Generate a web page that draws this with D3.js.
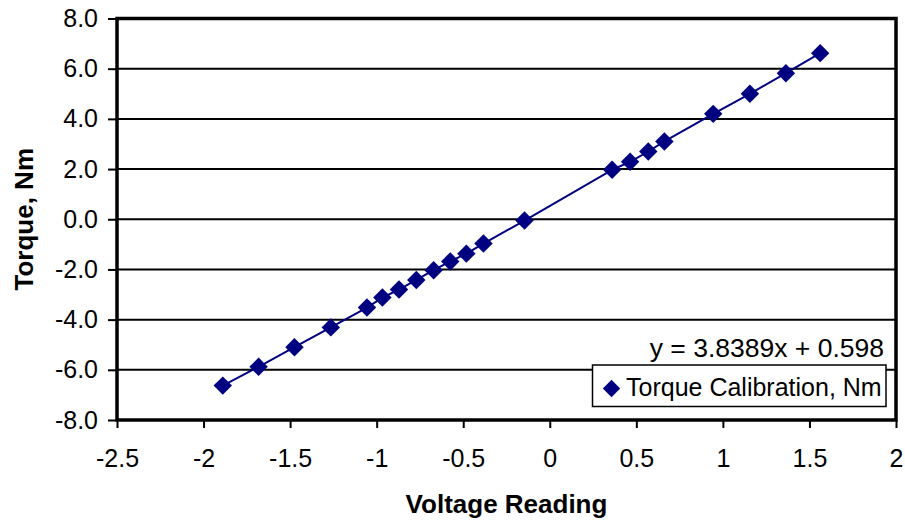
<!DOCTYPE html>
<html>
<head>
<meta charset="utf-8">
<script src="https://cdn.jsdelivr.net/npm/d3@7"></script>
<style>
  html, body { margin: 0; padding: 0; background: #fff; }
  svg { display: block; font-family: "Liberation Sans", Arial, sans-serif; }
</style>
</head>
<body>
<svg id="chart" width="905" height="521"></svg>
<script>
// ---- data ----
const voltage = [-1.889, -1.682, -1.475, -1.265, -1.056, -0.967, -0.871, -0.771, -0.671, -0.575,
                 -0.482, -0.383, -0.146, 0.360, 0.464, 0.569, 0.662, 0.944, 1.156, 1.364, 1.562];
const torque  = [-6.63, -5.88, -5.10, -4.31, -3.52, -3.12, -2.80, -2.42, -2.03, -1.68,
                 -1.37, -0.97, -0.05, 1.97, 2.29, 2.70, 3.10, 4.20, 5.00, 5.82, 6.62];
const xTicks = [-2.5, -2, -1.5, -1, -0.5, 0, 0.5, 1, 1.5, 2];
const yTicks = [8, 6, 4, 2, 0, -2, -4, -6, -8];
const seriesName = "Torque Calibration, Nm";
const equation = "y = 3.8389x + 0.598";
const xTitle = "Voltage Reading";
const yTitle = "Torque, Nm";

const points = voltage.map((v, i) => ({x: v, y: torque[i]}));

const svg = d3.select("#chart");
const L = 117, R = 896, T = 18.5, B = 420;
const navy = "#000080";
const font = "Liberation Sans, Arial, sans-serif";

const x = d3.scaleLinear().domain([-2.5, 2]).range([L, R]);
const y = d3.scaleLinear().domain([-8, 8]).range([B, T]);

// gridlines
svg.append("g").selectAll("line").data(yTicks.filter(d => d !== 8 && d !== -8)).join("line")
  .attr("x1", L).attr("x2", R)
  .attr("y1", d => y(d)).attr("y2", d => y(d))
  .attr("stroke", "#000").attr("stroke-width", 2);

// y axis
const yAxis = svg.append("g").attr("transform", `translate(${L},0)`)
  .call(d3.axisLeft(y).tickValues(yTicks).tickFormat(d => d.toFixed(1)).tickSize(9).tickPadding(10));
yAxis.select(".domain").remove();
yAxis.selectAll(".tick line").attr("stroke", "#000").attr("stroke-width", 2);
yAxis.selectAll(".tick text").attr("font-size", 25).attr("fill", "#000").attr("font-family", font);

// x axis
const xAxis = svg.append("g").attr("transform", `translate(0,${B})`)
  .call(d3.axisBottom(x).tickValues(xTicks).tickFormat(d => String(d)).tickSize(8).tickPadding(21));
xAxis.select(".domain").remove();
xAxis.selectAll(".tick line").attr("stroke", "#000").attr("stroke-width", 2);
xAxis.selectAll(".tick text").attr("font-size", 25).attr("fill", "#000").attr("font-family", font);

// plot frame
svg.append("rect").attr("x", L).attr("y", T).attr("width", R - L).attr("height", B - T)
  .attr("fill", "none").attr("stroke", "#000").attr("stroke-width", 3.5);

// series line
svg.append("path").datum(points)
  .attr("d", d3.line().x(d => x(d.x)).y(d => y(d.y)))
  .attr("fill", "none").attr("stroke", navy).attr("stroke-width", 2);

// markers
const marker = d3.symbol().type(d3.symbolSquare).size(170)();
svg.append("g").selectAll("path").data(points).join("path")
  .attr("transform", d => `translate(${x(d.x)},${y(d.y)}) rotate(45)`)
  .attr("d", marker)
  .attr("fill", navy);

// equation
svg.append("text").attr("x", 884).attr("y", 357).attr("text-anchor", "end")
  .attr("font-size", 26.5).attr("fill", "#000").text(equation);

// legend
const lg = svg.append("g");
lg.append("rect").attr("x", 592.5).attr("y", 365).attr("width", 293.5).attr("height", 41.5)
  .attr("fill", "#fff").attr("stroke", "#000").attr("stroke-width", 1.5);
lg.append("path").attr("transform", "translate(611.5,388.5) rotate(45)")
  .attr("d", d3.symbol().type(d3.symbolSquare).size(150)()).attr("fill", navy);
lg.append("text").attr("x", 626).attr("y", 396).attr("font-size", 25).attr("fill", "#000").text(seriesName);

// axis titles
svg.append("text").attr("x", (L + R) / 2).attr("y", 513).attr("text-anchor", "middle")
  .attr("font-size", 26).attr("font-weight", "bold").attr("fill", "#000").text(xTitle);
svg.append("text").attr("transform", `translate(33,${(T + B) / 2}) rotate(-90)`)
  .attr("text-anchor", "middle").attr("font-size", 26).attr("font-weight", "bold")
  .attr("fill", "#000").text(yTitle);
</script>
</body>
</html>
